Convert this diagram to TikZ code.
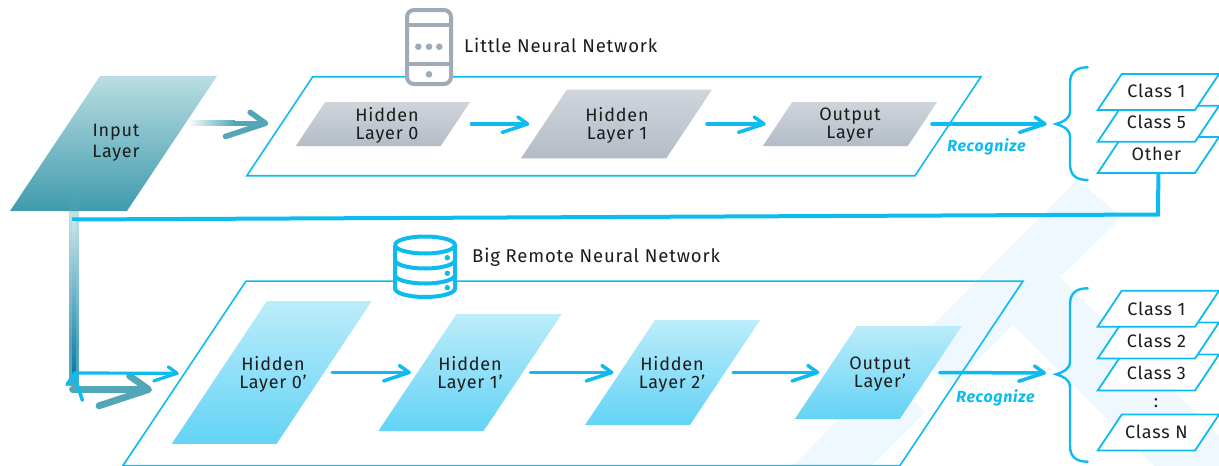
\documentclass[tikz,border=0pt]{standalone}
\usepackage{fontspec}
\setmainfont[LetterSpace=4.5]{Fira Sans}
\usetikzlibrary{arrows.meta,shapes.geometric,fadings,positioning}
\definecolor{netblue}{HTML}{0DBBEF}
\definecolor{netteal}{HTML}{52A6B5}
\definecolor{netgrey}{HTML}{A0ABB8}
\definecolor{netback}{HTML}{EEF8FE}
\definecolor{nettext}{HTML}{1C1C1C}
\definecolor{inputtop}{HTML}{BADDE3}
\definecolor{inputlow}{HTML}{3F9BAD}
\definecolor{deepblue}{HTML}{0A7BAA}
\newcommand{\ts}{\fontsize{18}{18}\selectfont}
\newcommand{\drawbrace}[3]{%
	\draw[bracket] (1087.7,#1) .. controls (1076,#1) and (1070,#1+5) .. (1070,#1+16)
		-- (1070,#2-13) .. controls (1070,#2-5) and (1063,#2-2) .. (1056,#2)
		.. controls (1063,#2+2) and (1070,#2+5) .. (1070,#2+13)
		-- (1070,#3-16) .. controls (1070,#3-5) and (1076,#3) .. (1087.7,#3);
}
\pgfdeclarearrow{
	name=Skewbarb,
	cache=false,
	setup code={
		\pgfarrowssettipend{0pt}
		\pgfarrowssetlineend{-1\pgflinewidth}
		\pgfarrowssetbackend{-7.5\pgflinewidth}
		\pgfarrowshullpoint{0pt}{0pt}
	},
	drawing code={
		\pgfsetdash{}{0pt}\pgfsetroundcap\pgfsetroundjoin
		\pgfpathmoveto{\pgfpoint{-3.3\pgflinewidth}{2\pgflinewidth}}
		\pgfpathlineto{\pgfpoint{-.5\pgflinewidth}{0pt}}
		\pgfpathlineto{\pgfpoint{-7.8\pgflinewidth}{-2.4\pgflinewidth}}
		\pgfusepathqstroke
	}
}
\begin{document}
\begin{tikzpicture}[x=1pt,y=-1pt,>={Skewbarb},
	slab/.style 2 args={shape=trapezium,trapezium left angle=56.3,trapezium right angle=123.7,
		trapezium stretches body,inner xsep=0pt,inner ysep=.5*#2,outer sep=0pt,
		minimum width=#1},
	tag/.style={font=\ts,text=nettext,align=center,inner sep=0pt},
	netbox/.style 2 args={slab={#1}{#2},draw=netblue,line width=1.6pt},
	greylayer/.style 2 args={slab={#1}{#2},top color=netgrey!50,bottom color=netgrey!80},
	bluelayer/.style 2 args={slab={#1}{#2},top color=netblue!30,bottom color=netblue!70,fill opacity=.92},
	classbox/.style={slab={121.3pt}{36pt},draw=netblue,line width=1.8pt,fill=white},
	link/.style={->,draw=netblue,line width=3.5pt,line cap=round},
	tail/.style={->,draw=netteal,line cap=round},
	bracket/.style={draw=netblue,line width=2.4pt,line cap=round},
	icon/.style={line width=4pt,fill=white},
	caption/.style={font=\fontsize{18.5}{18}\selectfont,text=nettext,anchor=west,inner sep=0pt},
	recog/.style={font=\fontsize{16}{16}\selectfont\bfseries\itshape,text=netblue,inner sep=0pt},
]
\useasboundingbox (0,0) rectangle (1219,466);
% backdrop
\fill[netback] (793,466) -- (1077,180) -- (1122,217) -- (1060,277) -- (1219,436) -- (1219,466)
	-- (1154,466) -- (1013,325) -- (950,387) -- (910,347) -- cycle;
\fill[netback] (793,466) -- (886,372) -- (925,412) -- (871,466) -- cycle;
% frames
\node[netbox={734.3pt}{99pt}]    (little) at (613.9,126.2) {};
\node[netbox={900pt}{184.5pt}]   (big)    at (573,373.3)   {};
%
\node[slab={207pt}{135pt},top color=inputtop,bottom color=inputlow] (input) at (113.5,143.5) {};
\node[greylayer={174.3pt}{44pt}]    (hid0) at (382.9,124)   {};
\node[greylayer={191pt}{68.7pt}]    (hid1) at (616.5,124)   {};
\node[greylayer={174.3pt}{44pt}]    (out)  at (850,124)     {};
\node[bluelayer={200pt}{142.7pt}]   (hidA) at (271.7,372.5) {};
\node[bluelayer={183.4pt}{117.3pt}] (hidB) at (470,372.5)   {};
\node[bluelayer={175pt}{105pt}]     (hidC) at (672.5,372.5) {};
\node[bluelayer={166.7pt}{92.7pt}]  (outB) at (878.3,372.5) {};
% result stacks
\node[classbox] (other)  at (1158.4,155)   {};
\node[classbox] (cfive)  at (1158.4,123.8) {};
\node[classbox] (cone)   at (1158.4,92)    {};
\node[classbox] (cthree) at (1158.4,372.5) {};
\node[classbox] (ctwo)   at (1158.4,340.5) {};
\node[classbox] (cfirst) at (1158.4,308.7) {};
\node[classbox] (cn)     at (1158.4,432.5) {};
%
\drawbrace{67.3}{124}{180}
\drawbrace{288.3}{374.3}{461.7}
\coordinate (btop) at (1056,124);
\coordinate (bbot) at (1056,373);
% lines
\coordinate (tailA) at (235,123.3);
\coordinate (tailB) at (268.3,123.3);
\coordinate (backR) at (1158,214.5);
\coordinate (backL) at (72,219.5);
\coordinate (downB) at (74,373);
\coordinate (tealC) at (72.5,389.5);
\coordinate (tealD) at (152,389.5);
\fill[netteal,path fading=west] (187,120.4) rectangle (tailA |- 0,126.2);
\draw[tail,line width=5.5pt,line cap=butt] (tailA) -- (tailB);
\fill[netteal,fill opacity=.35] (69,188) rectangle (79,214);
\shade[top color=netteal!35!white,bottom color=netteal] (69,214) rectangle (79,345);
\fill[netteal] (69,345) rectangle (79,386);
\draw[tail,line width=6.8pt] (tealC) -- (tealD);
\draw[draw=netblue,line width=4pt,line join=miter] (other.south) -- (backR) -- (backL);
\shade[top color=netteal!30!white,bottom color=deepblue] (72,221) rectangle (76,373);
\path[link]
	(hid0.east) edge[shorten <=16pt,shorten >=14.5pt]  (hid1.west)
	(hid1.east) edge[shorten <=18pt,shorten >=11.8pt]  (out.west)
	(out.east)  edge[shorten <=9.5pt,shorten >=9.3pt]  (btop)
	(hidA.east) edge[shorten <=8pt,shorten >=6.5pt]    (hidB.west)
	(hidB.east) edge[shorten <=8pt,shorten >=6.5pt]    (hidC.west)
	(hidC.east) edge[shorten <=8pt,shorten >=6.5pt]    (outB.west)
	(outB.east) edge[shorten <=9pt,shorten >=10pt]     (bbot)
	(downB)     edge[line width=3.2pt,shorten >=5.7pt] (big.west)
; %-path-%
% phone
\draw[icon,draw=netgrey,rounded corners=7pt] (407,10) rectangle (451,84);
\draw[netgrey,line width=3.6pt] (407,25) -- (451,25) (407,64) -- (451,64);
\foreach \dx in {418.3,429,439.3} \fill[netgrey] (\dx,46.7) circle[radius=3.3pt];
\fill[netgrey] (429,74.3) circle[radius=3.3pt];
% database
\draw[icon,draw=netblue] (395,245) -- (395,288.5) arc[start angle=180,end angle=360,x radius=30pt,y radius=8.5pt]
	-- (455,245) arc[start angle=0,end angle=180,x radius=30pt,y radius=8.5pt];
\foreach \ry in {245,260,275} \draw[draw=netblue,line width=4pt] (395,\ry) arc[start angle=180,end angle=360,x radius=30pt,y radius=8.5pt];
\foreach \ry in {257.7,273.3,287.7} \fill[netblue] (447.3,\ry) circle[radius=2.7pt];
% texts
\node[tag] (inputtxt) at (116,142.5)   {Input\\[3pt]Layer};
\node[tag] (hid0txt)  at (387,125.5)   {Hidden\\Layer 0};
\node[tag] (hid1txt)  at (617,125.5)   {Hidden\\Layer 1};
\node[tag] (outtxt)   at (850,125.5)   {Output\\Layer};
\node[tag] (hidAtxt)  at (273,374.5)   {Hidden\\Layer 0’};
\node[tag] (hidBtxt)  at (470,374.5)   {Hidden\\Layer 1’};
\node[tag] (hidCtxt)  at (672,374.5)   {Hidden\\Layer 2’};
\node[tag] (outBtxt)  at (880,374.5)   {Output\\Layer’};
\node[tag] (othertxt) at (1156.4,154)  {Other};
\node[tag] (cfivetxt) at (1156.4,122.3){Class 5};
\node[tag] (conetxt)  at (1156.4,90.5) {Class 1};
\node[tag] (c3txt)    at (1156.4,372.5){Class 3};
\node[tag] (c2txt)    at (1156.4,340.5){Class 2};
\node[tag] (c1txt)    at (1156.4,308.7){Class 1};
\node[tag] (cntxt)    at (1156.4,432)  {Class N};
\node[tag] (vdots)    at (1156,403)    {:};
\node[caption] (littlecap) at (464,45)  {Little Neural Network};
\node[caption] (bigcap)    at (472,257) {Big Remote Neural Network};
\node[recog]   (rectop)    at (986.5,147) {Recognize};
\node[recog]   (recbot)    at (995.5,398) {Recognize};
\end{tikzpicture}
\end{document}
